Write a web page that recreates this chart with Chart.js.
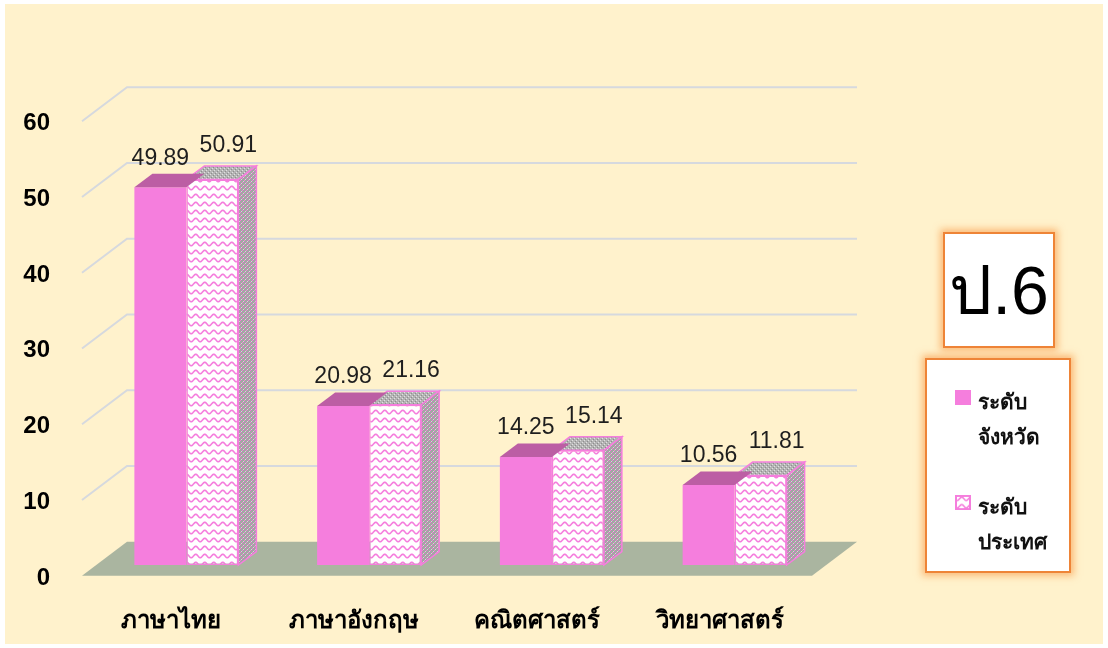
<!DOCTYPE html>
<html>
<head>
<meta charset="utf-8">
<script src="https://cdn.jsdelivr.net/npm/chart.js@4.4.1/dist/chart.umd.min.js"></script>
<style>
  body { margin: 0; background: #fff; font-family: "Liberation Sans", "Noto Sans", "DejaVu Sans", sans-serif; }
  #bg { position: absolute; left: 5px; top: 4px; width: 1098px; height: 640px; background: #FFF2CC; }
  #c { position: absolute; left: 0; top: 0; }
  .box { position: absolute; box-sizing: border-box; background: #fff; border: 2px solid #EE8437;
         box-shadow: 0 0 7px 3px rgba(250, 170, 95, 0.75); }
  #title { left: 943px; top: 232px; width: 112px; height: 116px; font-size: 68px; text-align: center; line-height: 112px; color: #000; }
  #legend { left: 925px; top: 358px; width: 146px; height: 215px; }
  .sw { position: absolute; left: 28px; width: 16px; height: 15px; }
  .lt { position: absolute; left: 51px; font-size: 21px; font-weight: bold; color: #111; line-height: 35px; }
</style>
</head>
<body>
<div id="bg"></div>
<canvas id="c" width="1108" height="648"></canvas>
<div id="title" class="box">ป.6</div>
<div id="legend" class="box"></div>
<script>
// ข้อมูล
var categories = ['ภาษาไทย', 'ภาษาอังกฤษ', 'คณิตศาสตร์', 'วิทยาศาสตร์'];
var provinceScores = [49.89, 20.98, 14.25, 10.56];
var nationScores = [50.91, 21.16, 15.14, 11.81];
var seriesNames = ['ระดับจังหวัด', 'ระดับประเทศ'];
var legendLines = [['ระดับ', 'จังหวัด'], ['ระดับ', 'ประเทศ']];
var yTicks = [0, 10, 20, 30, 40, 50, 60];

var pink = 'rgb(245,126,221)';
var pinkTop = 'rgb(188,94,164)';
var floorColor = 'rgb(170,181,160)';
var gridColor = 'rgb(214,217,222)';
var dx = 18, dy = -13.5;

function tile(w, h, draw) {
    var c = document.createElement('canvas');
    c.width = w; c.height = h;
    draw(c.getContext('2d'));
    return c;
}
var waveTile = tile(9, 8, function (g) {
    g.fillStyle = '#fff'; g.fillRect(0, 0, 9, 8);
    g.strokeStyle = pink; g.lineWidth = 1.6;
    g.beginPath();
    for (var i = -1; i <= 10; i += 0.5) {
        var yy = 4 + 1.7 * Math.sin(i / 9 * 2 * Math.PI);
        if (i === -1) g.moveTo(i, yy); else g.lineTo(i, yy);
    }
    g.stroke();
});
var sideTile = tile(4, 4, function (g) {
    g.fillStyle = '#a4a4a4'; g.fillRect(0, 0, 4, 4);
    g.fillStyle = pink; g.fillRect(0, 0, 1, 1); g.fillRect(2, 2, 1, 1);
    g.fillStyle = '#d8d8d8'; g.fillRect(1, 3, 1, 1); g.fillRect(3, 1, 1, 1);
});
var topTile = tile(4, 4, function (g) {
    g.fillStyle = '#b4b4b4'; g.fillRect(0, 0, 4, 4);
    g.fillStyle = '#e0e0e0'; g.fillRect(0, 0, 1, 1); g.fillRect(2, 2, 1, 1);
    g.fillStyle = '#8e8e8e'; g.fillRect(1, 3, 1, 1); g.fillRect(3, 1, 1, 1);
});

var ctx = document.getElementById('c').getContext('2d');
var wavePat = ctx.createPattern(waveTile, 'repeat');
var sidePat = ctx.createPattern(sideTile, 'repeat');
var topPat = ctx.createPattern(topTile, 'repeat');

// legend
var lg = document.getElementById('legend');
legendLines.forEach(function (lines, i) {
    var top = i === 0 ? 30 : 135;
    var sw = document.createElement(i === 0 ? 'div' : 'canvas');
    sw.className = 'sw';
    sw.style.top = top + 'px';
    if (i === 0) {
        sw.style.background = pink;
    } else {
        sw.width = 16; sw.height = 16;
        var g = sw.getContext('2d');
        g.fillStyle = g.createPattern(waveTile, 'repeat');
        g.fillRect(0, 0, 16, 16);
        g.strokeStyle = pink; g.lineWidth = 2; g.strokeRect(1, 1, 14, 14);
    }
    lg.appendChild(sw);
    var t = document.createElement('div');
    t.className = 'lt';
    t.style.top = (top - 6) + 'px';
    t.innerHTML = lines.join('<br>');
    lg.appendChild(t);
});

// 3D ประกอบ
var threeD = {
    id: 'threeD',
    beforeDatasetsDraw: function (chart) {
        var c = chart.ctx, a = chart.chartArea, ys = chart.scales.y;
        var y0 = ys.getPixelForValue(0);
        c.save();
        c.fillStyle = floorColor;
        c.beginPath();
        c.moveTo(a.left - 13, y0 + 10.7);
        c.lineTo(a.left + 32, y0 - 23.3);
        c.lineTo(a.right + 31, y0 - 23.3);
        c.lineTo(a.right - 14, y0 + 10.7);
        c.closePath();
        c.fill();
        c.strokeStyle = gridColor;
        c.lineWidth = 2;
        yTicks.forEach(function (v) {
            if (v === 0) return;
            var p = ys.getPixelForValue(v);
            c.beginPath();
            c.moveTo(a.left - 13, p + 10.7);
            c.lineTo(a.left + 32, p - 23.3);
            c.lineTo(a.right + 31, p - 23.3);
            c.stroke();
        });
        c.restore();
    },
    afterDatasetDraw: function (chart, args) {
        var c = chart.ctx, i = args.index;
        c.save();
        args.meta.data.forEach(function (bar) {
            var L = bar.x - bar.width / 2, R = bar.x + bar.width / 2, T = bar.y, B = bar.base;
            c.beginPath();
            c.moveTo(L, T); c.lineTo(L + dx, T + dy); c.lineTo(R + dx, T + dy); c.lineTo(R, T);
            c.closePath();
            c.fillStyle = i === 0 ? pinkTop : topPat;
            c.fill();
            if (i === 1) {
                c.strokeStyle = pink; c.lineWidth = 1.5; c.stroke();
                c.beginPath();
                c.moveTo(R, T); c.lineTo(R + dx, T + dy); c.lineTo(R + dx, B + dy); c.lineTo(R, B);
                c.closePath();
                c.fillStyle = sidePat; c.fill();
                c.stroke();
            }
        });
        c.restore();
    },
    afterDraw: function (chart) {
        var c = chart.ctx;
        c.save();
        c.font = '23px "Liberation Sans", "Noto Sans", sans-serif';
        c.fillStyle = '#1e1e1e';
        c.textAlign = 'center';
        c.textBaseline = 'middle';
        chart.data.datasets.forEach(function (ds, i) {
            chart.getDatasetMeta(i).data.forEach(function (bar, j) {
                var ox = i === 0 ? 0 : 16, oy = i === 0 ? -29 : -34;
                c.fillText(ds.data[j].toFixed(2), bar.x + ox, bar.y + oy);
            });
        });
        c.restore();
    }
};

new Chart(ctx, {
    type: 'bar',
    data: {
        labels: categories,
        datasets: [{
            label: seriesNames[0],
            data: provinceScores,
            backgroundColor: pink,
            borderWidth: 0
        }, {
            label: seriesNames[1],
            data: nationScores,
            backgroundColor: wavePat,
            borderColor: pink,
            borderWidth: 1.5,
            borderSkipped: false
        }]
    },
    options: {
        responsive: false,
        animation: false,
        layout: { padding: { left: 0, right: 282, top: 110.6, bottom: 0 } },
        datasets: { bar: { barPercentage: 1, categoryPercentage: 0.569 } },
        plugins: { legend: { display: false }, tooltip: { enabled: false } },
        scales: {
            x: {
                grid: { display: false, drawTicks: false },
                border: { display: false },
                afterFit: function (s) { s.height = 83; },
                ticks: {
                    color: '#000', padding: 42, labelOffset: -15,
                    font: { family: '"Liberation Sans", "Noto Sans", sans-serif', size: 24, weight: 'bold' }
                }
            },
            y: {
                min: 0, max: 60,
                grid: { display: false, drawTicks: false },
                border: { display: false },
                afterFit: function (s) { s.width = 95; },
                ticks: {
                    stepSize: 10, color: '#000', padding: 45, labelOffset: 13,
                    font: { family: '"Liberation Sans", "Noto Sans", sans-serif', size: 24, weight: 'bold' }
                }
            }
        }
    },
    plugins: [threeD]
});
</script>
</body>
</html>
